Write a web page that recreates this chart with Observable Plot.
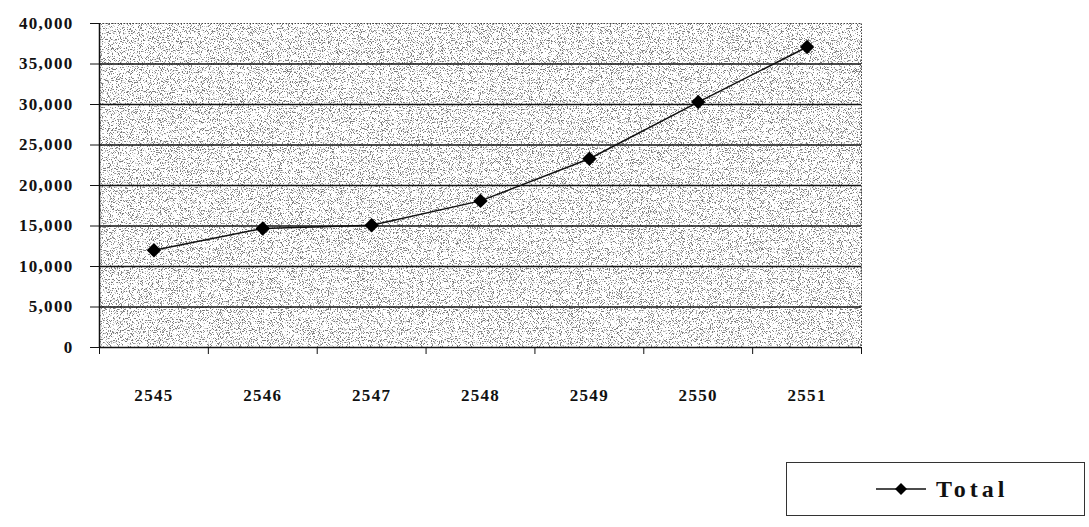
<!DOCTYPE html>
<html>
<head>
<meta charset="utf-8">
<script src="https://cdn.jsdelivr.net/npm/d3@7"></script>
<script src="https://cdn.jsdelivr.net/npm/@observablehq/plot@0.6"></script>
<style>
  html, body { margin: 0; padding: 0; background: #fff; }
  #wrap { position: relative; width: 1089px; height: 527px; overflow: hidden; }
  #legend { position: absolute; left: 786px; top: 462px; width: 299px; height: 54px;
            border: 1px solid #333; box-sizing: border-box; display: flex; align-items: center;
            font-family: "Liberation Serif", serif; font-weight: bold; font-size: 24px; letter-spacing: 4px; color: #111; }
  #legend svg { margin-left: 88px; margin-right: 9px; }
</style>
</head>
<body>
<div id="wrap"><div id="legend"></div></div>
<script>
const years = [2545, 2546, 2547, 2548, 2549, 2550, 2551];
const totals = [12000, 14700, 15100, 18100, 23300, 30300, 37100];
const seriesName = "Total";
const yTicks = [0, 5000, 10000, 15000, 20000, 25000, 30000, 35000, 40000];
const gridLines = [5000, 10000, 15000, 20000, 25000, 30000, 35000];
const xBounds = [2544.5, 2545.5, 2546.5, 2547.5, 2548.5, 2549.5, 2550.5, 2551.5];

const data = years.map((y, i) => ({year: y, value: totals[i]}));

const chart = Plot.plot({
  width: 1089,
  height: 527,
  marginLeft: 99,
  marginRight: 228,
  marginTop: 23,
  marginBottom: 180,
  style: {fontFamily: "'Liberation Serif', serif", fontSize: "17px", fontWeight: "bold", letterSpacing: "1.3px", color: "#111", background: "transparent"},
  x: {domain: [2544.5, 2551.5]},
  y: {domain: [0, 40000]},
  marks: [
    Plot.frame({fill: "#fff", stroke: "none"}),
    Plot.frame({fill: "#fff", stroke: "none", className: "stipple"}),
    Plot.frame({stroke: "#444", strokeDasharray: "1.5,1.5", strokeWidth: 1}),
    Plot.ruleY(gridLines, {stroke: "#111", strokeWidth: 1.5}),
    Plot.ruleY([0], {stroke: "#111", strokeWidth: 1.5}),
    Plot.ruleX([2544.5], {stroke: "#111", strokeWidth: 1.5}),
    Plot.axisY({ticks: yTicks, tickFormat: d3.format(","), tickSize: 9, tickPadding: 17, stroke: "#111", label: null}),
    Plot.axisX({ticks: xBounds, tickFormat: () => "", tickSize: 7, stroke: "#111", label: null}),
    Plot.axisX({ticks: years, tickFormat: d => String(d), tickSize: 0, tickPadding: 41, label: null}),
    Plot.line(data, {x: "year", y: "value", stroke: "#111", strokeWidth: 1.5}),
    Plot.dot(data, {x: "year", y: "value", symbol: "diamond2", r: 6.5, fill: "#000", stroke: "none"})
  ]
});

// stipple texture for the plot background
const svg = d3.select(chart);
const defs = svg.insert("defs", ":first-child");
const f = defs.append("filter").attr("id", "stip").attr("x", 0).attr("y", 0).attr("width", "100%").attr("height", "100%");
f.append("feTurbulence").attr("type", "fractalNoise").attr("baseFrequency", 0.9).attr("numOctaves", 2).attr("seed", 7).attr("result", "n");
f.append("feColorMatrix").attr("in", "n").attr("type", "matrix")
  .attr("values", "0 0 0 0 0.2  0 0 0 0 0.2  0 0 0 0 0.2  10 0 0 0 -5.5");
svg.selectAll(".stipple rect, rect.stipple, g.stipple rect").attr("filter", "url(#stip)").attr("fill", "#000");

document.getElementById("wrap").prepend(chart);
chart.style.position = "absolute";
chart.style.left = "0"; chart.style.top = "0";

// legend
const leg = d3.select("#legend");
const ls = leg.append("svg").attr("width", 52).attr("height", 16);
ls.append("line").attr("x1", 1).attr("x2", 51).attr("y1", 8).attr("y2", 8).attr("stroke", "#111").attr("stroke-width", 1.5);
ls.append("path").attr("d", "M26,2L32,8L26,14L20,8Z").attr("fill", "#000");
leg.append("span").text(seriesName);
</script>
</body>
</html>
